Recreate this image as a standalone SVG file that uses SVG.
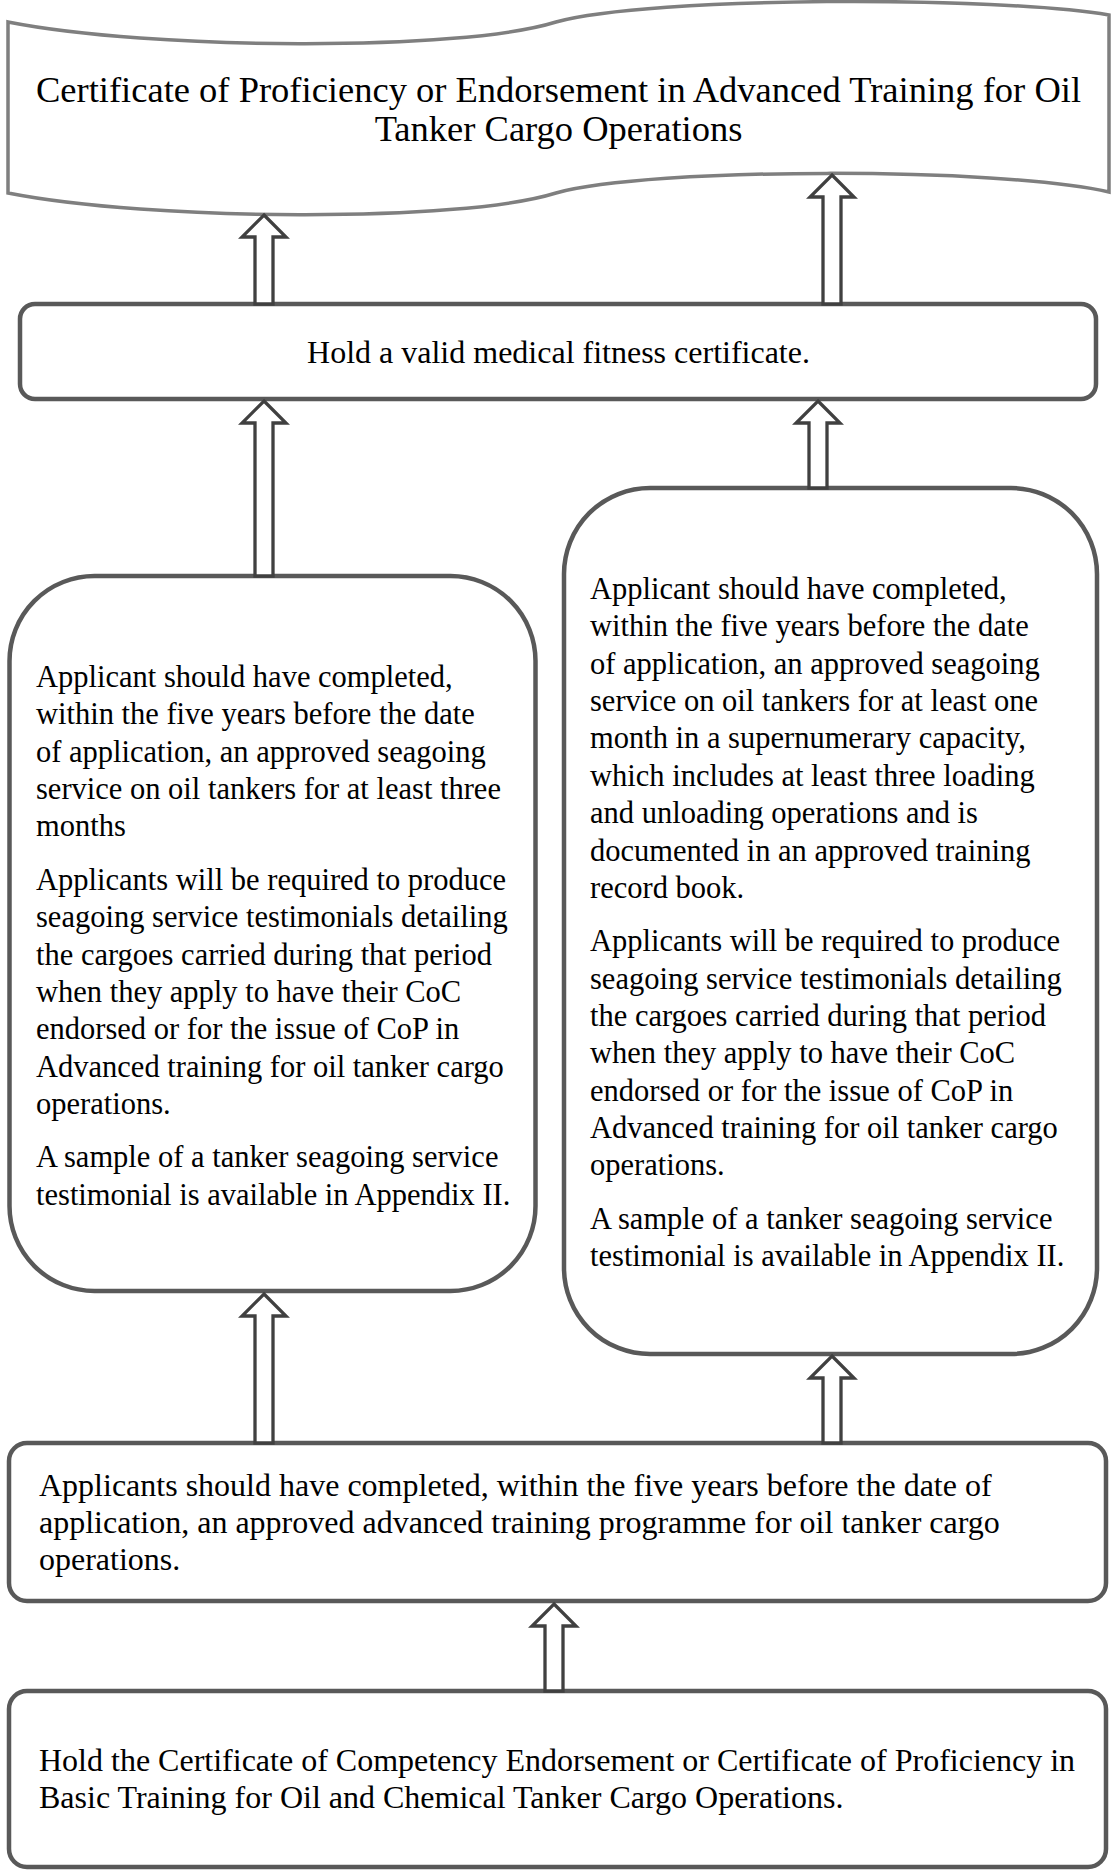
<svg xmlns="http://www.w3.org/2000/svg" width="1112" height="1870" viewBox="0 0 1112 1870">
<style>
.bg{fill:#ffffff}
.banner{fill:#ffffff;stroke:#7f7f7f;stroke-width:3.5}
.box{fill:#ffffff;stroke:#595959;stroke-width:4.5}
.arr{fill:#ffffff;stroke:#404040;stroke-width:3.3;stroke-linejoin:miter}
text{font-family:"Liberation Serif","Times New Roman",serif;fill:#000000}
.t-title{font-size:36.5px;text-anchor:middle}
.t-med{font-size:32px;text-anchor:middle}
.t-mid{font-size:30.5px}
.t-low{font-size:32px}
</style>
<rect class="bg" x="0" y="0" width="1112" height="1870"/>
<g id="node-certificate">
<path class="banner" d="M8,22 C150,50 460,52 556,22 C650,-4 1000,-4 1109,15 L1109,192 C1000,167 650,167 556,193 C460,223 150,221 8,193 Z"/>
<text class="t-title"><tspan x="558.5" y="102">Certificate of Proficiency or Endorsement in Advanced Training for Oil</tspan><tspan x="558.5" y="141">Tanker Cargo Operations</tspan></text>
</g>
<g id="node-medical">
<rect class="box" x="20" y="304" width="1076" height="95" rx="15"/>
<text class="t-med" x="558.5" y="363">Hold a valid medical fitness certificate.</text>
</g>
<g id="node-service-left">
<rect class="box" x="9.5" y="576" width="526" height="715" rx="85"/>
<text class="t-mid">
<tspan x="36" y="687">Applicant should have completed,</tspan>
<tspan x="36" y="724.4">within the five years before the date</tspan>
<tspan x="36" y="761.7">of application, an approved seagoing</tspan>
<tspan x="36" y="799.1">service on oil tankers for at least three</tspan>
<tspan x="36" y="836.4">months</tspan>
<tspan x="36" y="889.8">Applicants will be required to produce</tspan>
<tspan x="36" y="927.1">seagoing service testimonials detailing</tspan>
<tspan x="36" y="964.5">the cargoes carried during that period</tspan>
<tspan x="36" y="1001.8">when they apply to have their CoC</tspan>
<tspan x="36" y="1039.2">endorsed or for the issue of CoP in</tspan>
<tspan x="36" y="1076.5">Advanced training for oil tanker cargo</tspan>
<tspan x="36" y="1113.9">operations.</tspan>
<tspan x="36" y="1167.2">A sample of a tanker seagoing service</tspan>
<tspan x="36" y="1204.6">testimonial is available in Appendix II.</tspan>
</text>
</g>
<g id="node-service-right">
<rect class="box" x="564" y="488" width="533" height="866" rx="86"/>
<text class="t-mid">
<tspan x="590" y="599">Applicant should have completed,</tspan>
<tspan x="590" y="636.4">within the five years before the date</tspan>
<tspan x="590" y="673.7">of application, an approved seagoing</tspan>
<tspan x="590" y="711.1">service on oil tankers for at least one</tspan>
<tspan x="590" y="748.4">month in a supernumerary capacity,</tspan>
<tspan x="590" y="785.8">which includes at least three loading</tspan>
<tspan x="590" y="823.1">and unloading operations and is</tspan>
<tspan x="590" y="860.5">documented in an approved training</tspan>
<tspan x="590" y="897.8">record book.</tspan>
<tspan x="590" y="951.2">Applicants will be required to produce</tspan>
<tspan x="590" y="988.5">seagoing service testimonials detailing</tspan>
<tspan x="590" y="1025.9">the cargoes carried during that period</tspan>
<tspan x="590" y="1063.2">when they apply to have their CoC</tspan>
<tspan x="590" y="1100.6">endorsed or for the issue of CoP in</tspan>
<tspan x="590" y="1137.9">Advanced training for oil tanker cargo</tspan>
<tspan x="590" y="1175.3">operations.</tspan>
<tspan x="590" y="1228.6">A sample of a tanker seagoing service</tspan>
<tspan x="590" y="1266">testimonial is available in Appendix II.</tspan>
</text>
</g>
<g id="node-training">
<rect class="box" x="9" y="1443" width="1097" height="158" rx="18"/>
<text class="t-low"><tspan x="39" y="1496">Applicants should have completed, within the five years before the date of</tspan><tspan x="39" y="1533">application, an approved advanced training programme for oil tanker cargo</tspan><tspan x="39" y="1570">operations.</tspan></text>
</g>
<g id="node-basic">
<rect class="box" x="9" y="1691" width="1097" height="176" rx="18"/>
<text class="t-low"><tspan x="39" y="1771">Hold the Certificate of Competency Endorsement or Certificate of Proficiency in</tspan><tspan x="39" y="1807.5">Basic Training for Oil and Chemical Tanker Cargo Operations.</tspan></text>
</g>
<g id="connectors">
<path class="arr" d="M264,215 L286,237 L273,237 L273,304 L255,304 L255,237 L242,237 Z"/>
<path class="arr" d="M832,175 L854,197 L841,197 L841,304 L823,304 L823,197 L810,197 Z"/>
<path class="arr" d="M264,401 L286,423 L273,423 L273,576 L255,576 L255,423 L242,423 Z"/>
<path class="arr" d="M818,401 L840,423 L827,423 L827,488 L809,488 L809,423 L796,423 Z"/>
<path class="arr" d="M264,1294 L286,1316 L273,1316 L273,1443 L255,1443 L255,1316 L242,1316 Z"/>
<path class="arr" d="M832,1356 L854,1378 L841,1378 L841,1443 L823,1443 L823,1378 L810,1378 Z"/>
<path class="arr" d="M554,1604 L576,1626 L563,1626 L563,1691 L545,1691 L545,1626 L532,1626 Z"/>
</g>
</svg>
